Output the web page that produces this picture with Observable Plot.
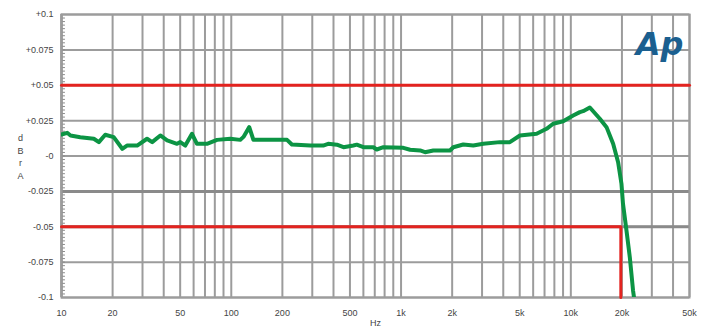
<!DOCTYPE html>
<html>
<head>
<meta charset="utf-8">
<script src="https://cdn.jsdelivr.net/npm/d3@7"></script>
<script src="https://cdn.jsdelivr.net/npm/@observablehq/plot@0.6"></script>
<style>
  html, body { margin: 0; padding: 0; background: #fff; }
  #chart svg { display: block; }
</style>
</head>
<body>
<div id="chart"></div>
<script>
// Frequency response (Hz) and level (dBrA)
const freqHz = [10, 10.8, 11.3, 12.9, 15.5, 16.6, 18.1, 20.3, 22.8, 24.3, 27.9, 31.9, 34.2, 38.2, 41.9, 47.9, 50.1, 53.6, 58.7, 62.8, 71.9, 82.4, 98.6, 113, 118, 127.6, 135, 213, 227.5, 291.7, 347.9, 372, 418.7, 458, 524, 548, 600, 687, 719, 787, 1032, 1130, 1294, 1384, 1549, 1941, 2031, 2325, 2663, 3049, 3821, 4375, 5012, 6285, 7196, 7870, 9016, 10320, 11300, 11810, 12940, 14820, 16230, 17750, 18990, 19870, 20290, 21270, 22250, 23250, 23560];
const levelDb = [0.0152, 0.0164, 0.0145, 0.0133, 0.0122, 0.0098, 0.015, 0.0133, 0.0051, 0.0074, 0.0074, 0.0122, 0.0098, 0.0145, 0.011, 0.0086, 0.0098, 0.0074, 0.0157, 0.0086, 0.0086, 0.0114, 0.0122, 0.0114, 0.0135, 0.0204, 0.0114, 0.0114, 0.0081, 0.0074, 0.0074, 0.0086, 0.008, 0.0062, 0.0074, 0.008, 0.0062, 0.0062, 0.0046, 0.0062, 0.0058, 0.0044, 0.0039, 0.0027, 0.0039, 0.0039, 0.0062, 0.0081, 0.0074, 0.0086, 0.0098, 0.0098, 0.0145, 0.0157, 0.0192, 0.0228, 0.0246, 0.0286, 0.031, 0.0317, 0.0343, 0.0263, 0.0204, 0.0086, -0.0044, -0.0196, -0.0338, -0.0527, -0.0715, -0.095, -0.1];

// Limit lines
const upperLimitF = [10, 50000];
const upperLimitV = [0.05, 0.05];
const lowerLimitF = [10, 19700, 19700];
const lowerLimitV = [-0.05, -0.05, -0.1];

// Ticks and grid
const xTicks = [10, 20, 50, 100, 200, 500, 1000, 2000, 5000, 10000, 20000, 50000];
const xTickLabels = ["10", "20", "50", "100", "200", "500", "1k", "2k", "5k", "10k", "20k", "50k"];
const xGrid = [10,20,30,40,50,60,70,80,90,100,200,300,400,500,600,700,800,900,1000,2000,3000,4000,5000,6000,7000,8000,9000,10000,20000,30000,40000,50000];
const yTicks = [0.1, 0.075, 0.05, 0.025, 0, -0.025, -0.05, -0.075, -0.1];
const yTickLabels = ["+0.1", "+0.075", "+0.05", "+0.025", "-0", "-0.025", "-0.05", "-0.075", "-0.1"];
const yMinor = d3.range(-0.1, 0.1001, 0.0025);
const yLabel = "d\nB\nr\nA";
const xLabel = "Hz";
const logo = "Ap";

const response = freqHz.map((f, i) => ({f, v: levelDb[i]}));
const upper = upperLimitF.map((f, i) => ({f, v: upperLimitV[i]}));
const lower = lowerLimitF.map((f, i) => ({f, v: lowerLimitV[i]}));
const xLabelRows = xTicks.map((f, i) => ({f, label: xTickLabels[i]}));

const grid = "#9c9c9c";
const font = "'Liberation Sans', Arial, sans-serif";

const chart = Plot.plot({
  width: 701,
  height: 330,
  marginLeft: 61,
  marginRight: 12,
  marginTop: 14,
  marginBottom: 33,
  style: {fontFamily: font, fontSize: "9px", color: "#444", background: "#fff"},
  x: {type: "log", domain: [10, 50000], axis: null},
  y: {domain: [-0.1, 0.1]},
  marks: [
    Plot.ruleX(xGrid, {stroke: grid, strokeWidth: 2}),
    Plot.ruleY(yTicks, {stroke: grid, strokeWidth: 2}),
    Plot.ruleY([-0.025, -0.05], {stroke: "#8a8a8a", strokeWidth: 3}),
    Plot.ruleY(yMinor, {x1: 10, x2: 10.55, stroke: "#8a8a8a", strokeWidth: 1}),
    Plot.ruleX([10], {stroke: "#8a8a8a", strokeWidth: 2}),
    Plot.frame({stroke: grid, strokeWidth: 2}),
    Plot.line(upper, {x: "f", y: "v", stroke: "#e3231f", strokeWidth: 3}),
    Plot.line(lower, {x: "f", y: "v", stroke: "#e3231f", strokeWidth: 3}),
    Plot.line(response, {x: "f", y: "v", stroke: "#0c9444", strokeWidth: 4, strokeLinejoin: "round", clip: true}),
    Plot.text(xLabelRows, {x: "f", text: "label", frameAnchor: "bottom", dy: 16, textAnchor: "middle", lineAnchor: "middle", fontSize: 9, fill: "#444"}),
    Plot.axisY({ticks: yTicks, tickSize: 0, tickPadding: 8, tickFormat: (d) => yTickLabels[yTicks.indexOf(d)], label: null, fontSize: 9}),
    Plot.text([yLabel], {frameAnchor: "left", dx: -41, textAnchor: "middle", lineHeight: 1.4, fontSize: 9, fill: "#444"}),
    Plot.text([xLabel], {frameAnchor: "bottom", dy: 28, textAnchor: "middle", fontSize: 9, fill: "#444"}),
    Plot.text([logo], {frameAnchor: "top-right", dx: -6, dy: 30, textAnchor: "end", lineAnchor: "middle", fontSize: 32, fontWeight: "bold", fontStyle: "italic", fill: "#1b5f8f", letterSpacing: "-3px", fontFamily: "'DejaVu Sans', sans-serif"})
  ]
});
document.getElementById("chart").appendChild(chart);
</script>
</body>
</html>
